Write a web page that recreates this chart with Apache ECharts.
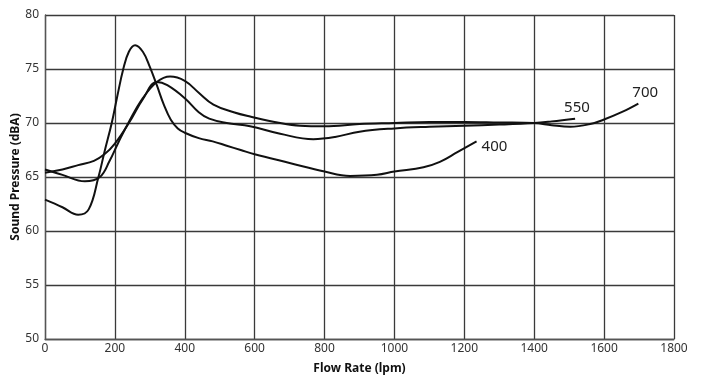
<!DOCTYPE html>
<html>
<head>
<meta charset="utf-8">
<script src="https://cdn.jsdelivr.net/npm/echarts@6/dist/echarts.min.js"></script>
<style>html,body{margin:0;padding:0;background:#fff;}#c{width:703px;height:375px;}</style>
</head>
<body>
<div id="c"></div>
<script>
const xTicks = [0, 200, 400, 600, 800, 1000, 1200, 1400, 1600, 1800];
const yTicks = [50, 55, 60, 65, 70, 75, 80];

const flow400 = [0, 50, 95, 125, 153, 170, 191, 207, 224, 240, 258, 280, 300, 320, 340, 360, 380, 400, 440, 480, 520, 560, 600, 700, 800, 873, 950, 1000, 1083, 1130, 1180, 1235];
const spl400  = [62.9, 62.2, 61.5, 62.0, 65.0, 67.3, 70.0, 72.5, 75.0, 76.6, 77.2, 76.6, 75.2, 73.5, 71.7, 70.3, 69.5, 69.1, 68.6, 68.3, 67.9, 67.5, 67.1, 66.3, 65.5, 65.1, 65.2, 65.5, 65.9, 66.4, 67.3, 68.3];

const flow550 = [0, 50, 95, 140, 170, 200, 240, 280, 320, 350, 400, 440, 470, 520, 587, 673, 768, 830, 900, 1000, 1100, 1200, 1300, 1400, 1450, 1517];
const spl550  = [65.4, 65.7, 66.1, 66.5, 67.1, 68.1, 70.0, 72.2, 73.8, 73.5, 72.3, 71.0, 70.4, 70.0, 69.7, 69.0, 68.5, 68.7, 69.2, 69.5, 69.65, 69.75, 69.85, 70.0, 70.15, 70.4];

const flow700 = [0, 50, 114, 157, 185, 210, 240, 280, 320, 358, 400, 440, 482, 540, 587, 673, 730, 800, 900, 1000, 1100, 1200, 1300, 1400, 1450, 1503, 1560, 1598, 1650, 1698];
const spl700  = [65.7, 65.2, 64.6, 65.0, 66.5, 68.2, 70.1, 72.3, 73.8, 74.3, 73.9, 72.8, 71.7, 71.0, 70.6, 70.0, 69.75, 69.7, 69.9, 70.0, 70.1, 70.1, 70.05, 70.0, 69.8, 69.66, 69.9, 70.3, 71.0, 71.8];

const names = ['400', '550', '700'];

function pairs(xs, ys) { return xs.map((x, i) => [x, ys[i]]); }

const chart = echarts.init(document.getElementById('c'), null, {renderer: 'canvas'});
const gridLine = {lineStyle: {color: '#3a3a3a', width: 1.3}};
const offsets = [[-3, 5], [-19, -11], [-14, -11]];
const datas = [pairs(flow400, spl400), pairs(flow550, spl550), pairs(flow700, spl700)];

chart.setOption({
  animation: false,
  grid: {left: 45, right: 29, top: 15, bottom: 36, containLabel: false, outerBoundsMode: 'none'},
  xAxis: {
    type: 'value', min: xTicks[0], max: xTicks[xTicks.length - 1], interval: 200,
    name: 'Flow Rate (lpm)', nameLocation: 'middle', nameGap: 24,
    nameTextStyle: {fontFamily: 'Noto Sans', fontWeight: 'bold', fontSize: 12, color: '#111'},
    axisLine: {show: true, lineStyle: {color: '#555', width: 1.3}},
    axisTick: {show: false},
    axisLabel: {fontFamily: 'Noto Sans', fontSize: 12, color: '#333', margin: 4, formatter: v => String(v)},
    splitLine: Object.assign({show: true}, gridLine)
  },
  yAxis: {
    type: 'value', min: yTicks[0], max: yTicks[yTicks.length - 1], interval: 5,
    name: 'Sound Pressure (dBA)', nameLocation: 'middle', nameGap: 23, nameMoveOverlap: false,
    nameTextStyle: {fontFamily: 'Noto Sans', fontWeight: 'bold', fontSize: 12, color: '#111'},
    axisLine: {show: true, lineStyle: {color: '#555', width: 1.3}},
    axisTick: {show: false},
    axisLabel: {fontFamily: 'Noto Sans', fontSize: 12, color: '#333', margin: 6, formatter: v => String(v)},
    splitLine: Object.assign({show: true}, gridLine)
  },
  series: names.map((n, i) => ({
    name: n, type: 'line', data: datas[i], smooth: 0.4, showSymbol: false, symbol: 'none',
    lineStyle: {color: '#111', width: 2},
    endLabel: {show: true, formatter: n, offset: offsets[i], fontFamily: 'Noto Sans', fontSize: 15, color: '#222'}
  }))
});
</script>
</body>
</html>
